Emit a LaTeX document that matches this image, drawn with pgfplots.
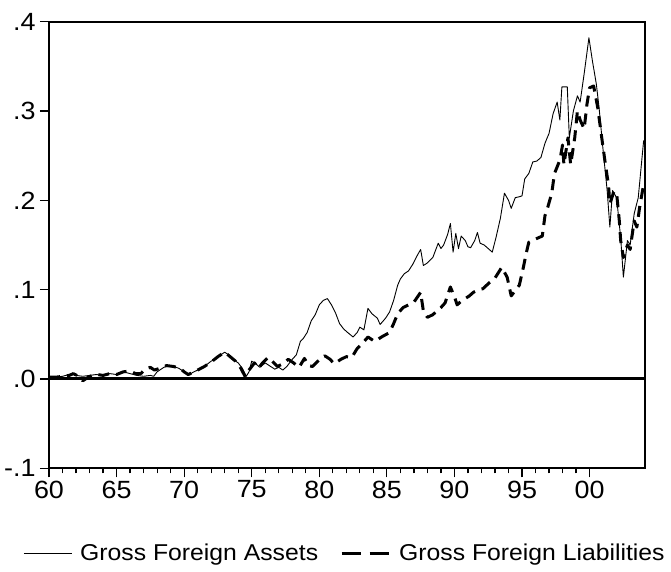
\documentclass[border=0pt]{standalone}
\usepackage{fontspec}
\setmainfont{Liberation Sans}[FakeStretch=1.08]
\usepackage{pgfplots}
\pgfplotsset{compat=1.18}
\begin{document}
\begin{tikzpicture}
\begin{axis}[
 at={(0,0)}, anchor=south west,
 scale only axis, width=596bp, height=446.6bp,
 xmin=1960, xmax=2004.1, ymin=-0.1, ymax=0.4,
 xtick={1960,1965,...,2000}, xticklabels={60,65,70,75,80,85,90,95,00},
 minor x tick num=4,
 ytick={-0.1,0,0.1,0.2,0.3,0.4}, yticklabels={-.1,.0,.1,.2,.3,.4},
 tick align=outside, xtick pos=bottom, ytick pos=left,
 major tick length=9bp, minor tick length=5bp,
 tick style={black, line width=1.2bp},
 axis line style={line width=2bp},
 xticklabel style={font=\fontsize{25}{28}\selectfont},
 yticklabel style={font=\fontsize{25}{28}\selectfont, xshift=-1bp},
 legend columns=2,
 legend style={at={(0.4966,-0.19)}, anchor=center, draw=none, fill=none,
   font=\fontsize{23}{27}\selectfont,
   /tikz/every even column/.append style={column sep=20bp}},
]
\addplot[black, line width=3bp, forget plot] coordinates {(1960,0) (2004.1,0)};
\addplot[black, line width=0.9bp, line join=round,
  legend image code/.code={\draw[black, line width=0.9bp] (0bp,0bp) -- (48bp,0bp); \path (54bp,0bp);}] coordinates {
(1960.0,0.002) (1960.5,0.002) (1961.0,0.003) (1961.5,0.005) (1961.75,0.006) (1962.0,0.004)
(1962.5,0.003) (1963.0,0.004) (1963.5,0.005) (1964.0,0.004) (1964.5,0.006) (1965.0,0.005)
(1965.5,0.008) (1966.0,0.006) (1966.5,0.004) (1967.0,0.003) (1967.5,0.004) (1967.75,0.003)
(1968.0,0.008) (1968.5,0.013) (1968.8,0.015) (1969.2,0.014) (1969.6,0.012) (1970.0,0.008)
(1970.3,0.004) (1970.6,0.007) (1971.0,0.010) (1971.5,0.014) (1972.0,0.020) (1972.3,0.022)
(1972.6,0.026) (1973.0,0.030) (1973.3,0.027) (1973.6,0.022) (1974.0,0.018) (1974.3,0.012)
(1974.6,0.003) (1974.8,0.008) (1975.0,0.020) (1975.3,0.017) (1975.6,0.013) (1976.0,0.018)
(1976.3,0.015) (1976.7,0.011) (1977.0,0.013) (1977.3,0.010) (1977.6,0.014) (1978.0,0.022)
(1978.3,0.027) (1978.6,0.042) (1978.8,0.045) (1979.1,0.052) (1979.4,0.065) (1979.7,0.072)
(1980.0,0.083) (1980.3,0.088) (1980.6,0.090) (1980.9,0.083) (1981.2,0.074) (1981.5,0.062)
(1981.8,0.056) (1982.1,0.052) (1982.5,0.047) (1982.8,0.052) (1983.0,0.058) (1983.3,0.055)
(1983.6,0.079) (1983.9,0.073) (1984.3,0.068) (1984.5,0.061) (1984.9,0.068) (1985.2,0.075)
(1985.5,0.088) (1985.8,0.105) (1986.0,0.112) (1986.3,0.118) (1986.6,0.121) (1986.9,0.128)
(1987.2,0.137) (1987.5,0.145) (1987.7,0.127) (1988.0,0.130) (1988.4,0.136) (1988.8,0.152)
(1989.0,0.146) (1989.2,0.150) (1989.5,0.162) (1989.7,0.174) (1989.9,0.142) (1990.1,0.163)
(1990.3,0.146) (1990.5,0.160) (1990.8,0.155) (1991.0,0.148) (1991.2,0.147) (1991.5,0.155)
(1991.7,0.164) (1991.9,0.152) (1992.2,0.150) (1992.5,0.146) (1992.8,0.142) (1993.1,0.160)
(1993.4,0.180) (1993.7,0.208) (1994.0,0.200) (1994.2,0.191) (1994.5,0.203) (1994.8,0.204)
(1995.0,0.205) (1995.2,0.224) (1995.5,0.230) (1995.8,0.243) (1996.1,0.244) (1996.4,0.248)
(1996.7,0.264) (1997.0,0.275) (1997.3,0.297) (1997.6,0.310) (1997.8,0.290) (1997.95,0.327)
(1998.35,0.327) (1998.5,0.270) (1998.8,0.300) (1999.1,0.317) (1999.3,0.310) (1999.6,0.342)
(1999.95,0.382) (2000.2,0.357) (2000.5,0.330) (2000.7,0.304) (2001.0,0.256) (2001.3,0.211)
(2001.5,0.170) (2001.7,0.211) (2002.0,0.203) (2002.3,0.158) (2002.5,0.114) (2002.8,0.155)
(2003.0,0.150) (2003.3,0.185) (2003.6,0.203) (2004.0,0.267)
};
\addlegendentry{Gross Foreign Assets}
\addplot[black, line width=3bp, dash pattern=on 11bp off 7bp, line join=round,
  legend image code/.code={\draw[black, line width=3bp, dash pattern=on 19bp off 9bp] (0bp,0bp) -- (48bp,0bp); \path (54bp,0bp);}] coordinates {
(1960.0,0.002) (1960.5,0.002) (1961.0,0.003) (1961.5,0.004) (1961.8,0.006) (1962.2,0.003)
(1962.5,-0.002) (1962.8,0.001) (1963.2,0.004) (1963.6,0.005) (1964.0,0.004) (1964.5,0.006)
(1965.0,0.005) (1965.5,0.008) (1966.0,0.009) (1966.4,0.006) (1966.8,0.006) (1967.1,0.011)
(1967.5,0.013) (1967.8,0.010) (1968.2,0.012) (1968.7,0.015) (1969.2,0.014) (1969.7,0.012)
(1970.0,0.008) (1970.3,0.005) (1970.6,0.007) (1971.0,0.010) (1971.5,0.014) (1972.0,0.019)
(1972.5,0.025) (1973.0,0.030) (1973.4,0.025) (1973.8,0.020) (1974.2,0.012) (1974.5,0.003)
(1974.8,0.010) (1975.2,0.018) (1975.5,0.012) (1975.8,0.018) (1976.2,0.024) (1976.5,0.020)
(1976.9,0.014) (1977.3,0.017) (1977.7,0.022) (1978.1,0.018) (1978.5,0.013) (1978.9,0.023)
(1979.2,0.015) (1979.5,0.014) (1979.9,0.020) (1980.4,0.026) (1980.8,0.022) (1981.1,0.017)
(1981.6,0.022) (1982.0,0.025) (1982.4,0.024) (1982.8,0.034) (1983.2,0.040) (1983.6,0.047)
(1984.1,0.042) (1984.6,0.047) (1985.2,0.052) (1985.5,0.062) (1985.8,0.073) (1986.2,0.080)
(1986.6,0.083) (1987.0,0.086) (1987.5,0.097) (1987.7,0.076) (1988.0,0.069) (1988.4,0.072)
(1988.7,0.076) (1989.0,0.080) (1989.3,0.085) (1989.7,0.103) (1990.0,0.092) (1990.2,0.083)
(1990.5,0.087) (1990.8,0.090) (1991.1,0.093) (1991.4,0.097) (1991.8,0.100) (1992.1,0.101)
(1992.6,0.108) (1993.0,0.113) (1993.5,0.125) (1993.9,0.114) (1994.2,0.093) (1994.5,0.099)
(1994.8,0.105) (1995.1,0.125) (1995.3,0.140) (1995.5,0.153) (1995.9,0.156) (1996.2,0.158)
(1996.5,0.160) (1996.7,0.183) (1996.9,0.192) (1997.2,0.208) (1997.4,0.230) (1997.8,0.245)
(1998.0,0.262) (1998.1,0.240) (1998.4,0.270) (1998.6,0.240) (1998.9,0.270) (1999.1,0.300)
(1999.3,0.290) (1999.6,0.280) (1999.8,0.307) (2000.0,0.326) (2000.3,0.328) (2000.6,0.304)
(2000.9,0.270) (2001.2,0.237) (2001.4,0.217) (2001.5,0.196) (2001.8,0.210) (2002.0,0.208)
(2002.2,0.177) (2002.3,0.155) (2002.5,0.136) (2002.8,0.150) (2003.0,0.145) (2003.3,0.177)
(2003.5,0.170) (2003.7,0.192) (2004.0,0.218)
};
\addlegendentry{Gross Foreign Liabilities}
\end{axis}
\pgfresetboundingbox
\path (-49bp,-103.7bp) rectangle (622bp,468.3bp);
\end{tikzpicture}
\end{document}
